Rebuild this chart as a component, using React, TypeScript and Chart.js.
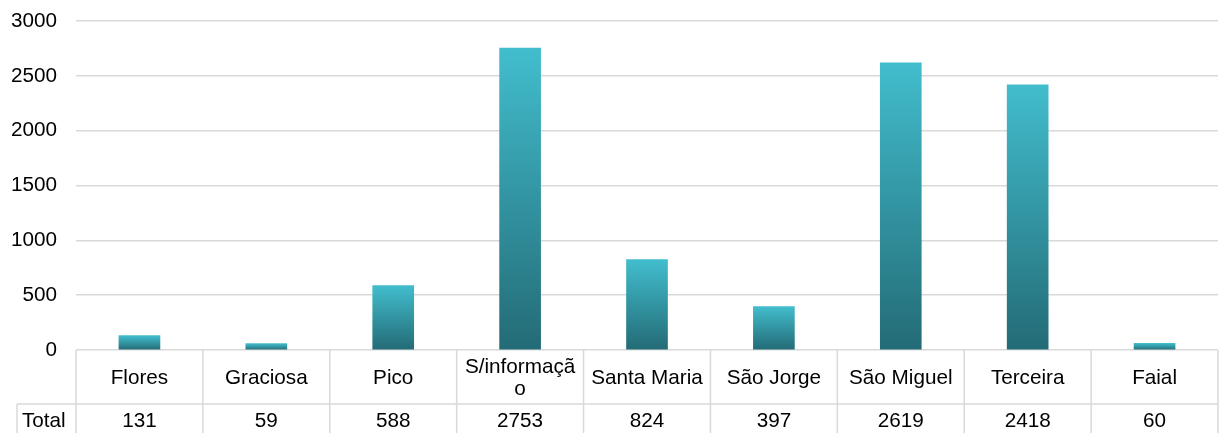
import React, { useEffect, useRef } from "react";
import { Chart, registerables } from "chart.js";

Chart.register(...registerables);

const categories: string[] = [
  "Flores",
  "Graciosa",
  "Pico",
  "S/informação",
  "Santa Maria",
  "São Jorge",
  "São Miguel",
  "Terceira",
  "Faial",
];
const seriesName = "Total";
const totals: number[] = [131, 59, 588, 2753, 824, 397, 2619, 2418, 60];

const yMin = 0;
const yMax = 3000;
const yStep = 500;

const FONT = "'Liberation Sans', Arial, Helvetica, sans-serif";
const FONT_SIZE = 20.7;
const GRID = "#d9d9d9";
const TEXT = "#000000";
const BAR_TOP = "#42bdcd";
const BAR_BOTTOM = "#236b76";

// Breaks a label into lines that fit a cell, splitting inside words if needed.
function wrapLabel(ctx: CanvasRenderingContext2D, text: string, maxWidth: number): string[] {
  const lines: string[] = [];
  let cur = "";
  for (const ch of text) {
    const next = cur + ch;
    if (cur && ctx.measureText(next).width > maxWidth) {
      lines.push(cur.trimEnd());
      cur = ch === " " ? "" : ch;
    } else {
      cur = next;
    }
  }
  if (cur) lines.push(cur);
  return lines;
}

// Excel-style data table drawn under the plot area.
const dataTablePlugin = {
  id: "dataTable",
  afterDraw(chart: any) {
    const { ctx, chartArea } = chart;
    const xScale = chart.scales.x;
    const n = categories.length;
    const left = chartArea.left;
    const right = chartArea.right;
    const colW = (right - left) / n;
    const top = chartArea.bottom;
    const headerH = 54;
    const rowTop = top + headerH;
    const bottom = chart.height;
    const labelLeft = 17;

    ctx.save();
    ctx.strokeStyle = GRID;
    ctx.lineWidth = 1.5;
    ctx.beginPath();
    // header bottom / value row top
    ctx.moveTo(labelLeft, rowTop);
    ctx.lineTo(right, rowTop);
    // series label cell left edge
    ctx.moveTo(labelLeft, rowTop);
    ctx.lineTo(labelLeft, bottom);
    for (let i = 0; i <= n; i++) {
      const x = left + i * colW;
      ctx.moveTo(x, top);
      ctx.lineTo(x, bottom);
    }
    ctx.stroke();

    ctx.fillStyle = TEXT;
    ctx.font = `${FONT_SIZE}px ${FONT}`;
    ctx.textAlign = "center";
    ctx.textBaseline = "middle";
    const lineH = 22;
    categories.forEach((cat, i) => {
      const cx = xScale.getPixelForValue(i);
      const lines = wrapLabel(ctx, cat, colW - 8);
      const cy = top + headerH / 2;
      const startY = cy - ((lines.length - 1) * lineH) / 2;
      lines.forEach((ln, k) => ctx.fillText(ln, cx, startY + k * lineH + 1));
      ctx.fillText(String(totals[i]), cx, rowTop + 17);
    });
    ctx.textAlign = "left";
    ctx.fillText(seriesName, 22, rowTop + 17);
    ctx.restore();
  },
};

export default function App() {
  const canvasRef = useRef<HTMLCanvasElement | null>(null);

  useEffect(() => {
    const canvas = canvasRef.current;
    if (!canvas) return;

    const chart = new Chart(canvas, {
      type: "bar",
      data: {
        labels: categories,
        datasets: [
          {
            label: seriesName,
            data: totals,
            barThickness: 41,
            borderWidth: 0,
            backgroundColor: (c: any) => {
              const ch = c.chart;
              const y = ch.scales?.y;
              if (!y || c.raw === undefined || !ch.chartArea) return BAR_BOTTOM;
              const yTop = y.getPixelForValue(c.raw);
              const yBase = y.getPixelForValue(0);
              if (!isFinite(yTop) || !isFinite(yBase) || yTop === yBase) return BAR_BOTTOM;
              const g = ch.ctx.createLinearGradient(0, yTop, 0, yBase);
              g.addColorStop(0, BAR_TOP);
              g.addColorStop(1, BAR_BOTTOM);
              return g;
            },
          },
        ],
      },
      options: {
        responsive: false,
        animation: false,
        devicePixelRatio: 1,
        layout: { padding: { top: 21, right: 12, bottom: 83, left: 0 } },
        plugins: {
          legend: { display: false },
          tooltip: { enabled: false },
        },
        scales: {
          x: {
            display: false,
          },
          y: {
            min: yMin,
            max: yMax,
            afterFit: (s: any) => {
              s.width = 76;
              s.paddingTop = 0;
              s.paddingBottom = 0;
            },
            ticks: {
              stepSize: yStep,
              padding: 19,
              color: TEXT,
              font: { family: FONT, size: FONT_SIZE },
              callback: (v: any) => String(v),
            },
            grid: { color: GRID, lineWidth: 1.5, drawTicks: false },
            border: { display: false },
          },
        },
      },
      plugins: [dataTablePlugin],
    });

    return () => chart.destroy();
  }, []);

  return (
    <div style={{ position: "absolute", left: 0, top: 0, width: 1230, height: 433, background: "#fff" }}>
      <canvas ref={canvasRef} width={1230} height={433} style={{ display: "block" }} />
    </div>
  );
}
